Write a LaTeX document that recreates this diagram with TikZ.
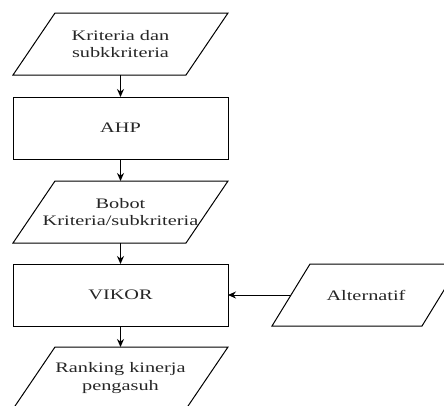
\documentclass[tikz,border=0pt]{standalone}
\usepackage{fontspec}
\setmainfont[FakeStretch=1.4]{Liberation Serif}
\usetikzlibrary{arrows.meta}
\newcommand{\paraframe}[2]{%
  \draw[line width=1pt] ([xshift=#2]#1.north west) -- ([xshift=#2]#1.north east)
    -- ([xshift=-#2]#1.south east) -- ([xshift=-#2]#1.south west) -- cycle;}
\begin{document}
\begin{tikzpicture}[x=1pt,y=1pt,
  every node/.style={font=\fontsize{14.5}{17.5}\selectfont, align=center, text=black!85},
  procbox/.style={draw, line width=1pt, rectangle, minimum width=215pt, minimum height=62pt, inner sep=0pt, outer sep=0pt},
  iobox/.style={rectangle, minimum width=173pt, minimum height=62pt, inner sep=0pt, outer sep=0pt},
  altbox/.style={iobox, minimum width=150pt},
  flow/.style={line width=1pt, -{Stealth[length=8pt,width=7pt]}}
]
\useasboundingbox (0,0) rectangle (444,-405);
\clip (0,0) rectangle (444,-405);
\node[iobox] (kr) at (120.5,-44) {Kriteria dan\\subkkriteria};
\node[procbox] (ahp) at (120.5,-128) {AHP};
\node[iobox] (bob) at (120.5,-212) {Bobot\\Kriteria/subkriteria};
\node[procbox] (vik) at (120.5,-295) {VIKOR};
\node[altbox] (alt) at (366,-295) {Alternatif};
\node[iobox] (rank) at (120.5,-378) {Ranking kinerja\\pengasuh};
\paraframe{kr}{21pt}
\paraframe{bob}{21pt}
\paraframe{alt}{19pt}
\paraframe{rank}{21pt}
\draw[flow] (kr.south) -- ([yshift=0pt]ahp.north);
\draw[flow] (ahp) -- (bob);
\draw[flow] (bob) -- (vik);
\draw[flow] (vik) -- (rank);
\draw[flow] (alt.west) -- (vik.east);
\end{tikzpicture}
\end{document}
